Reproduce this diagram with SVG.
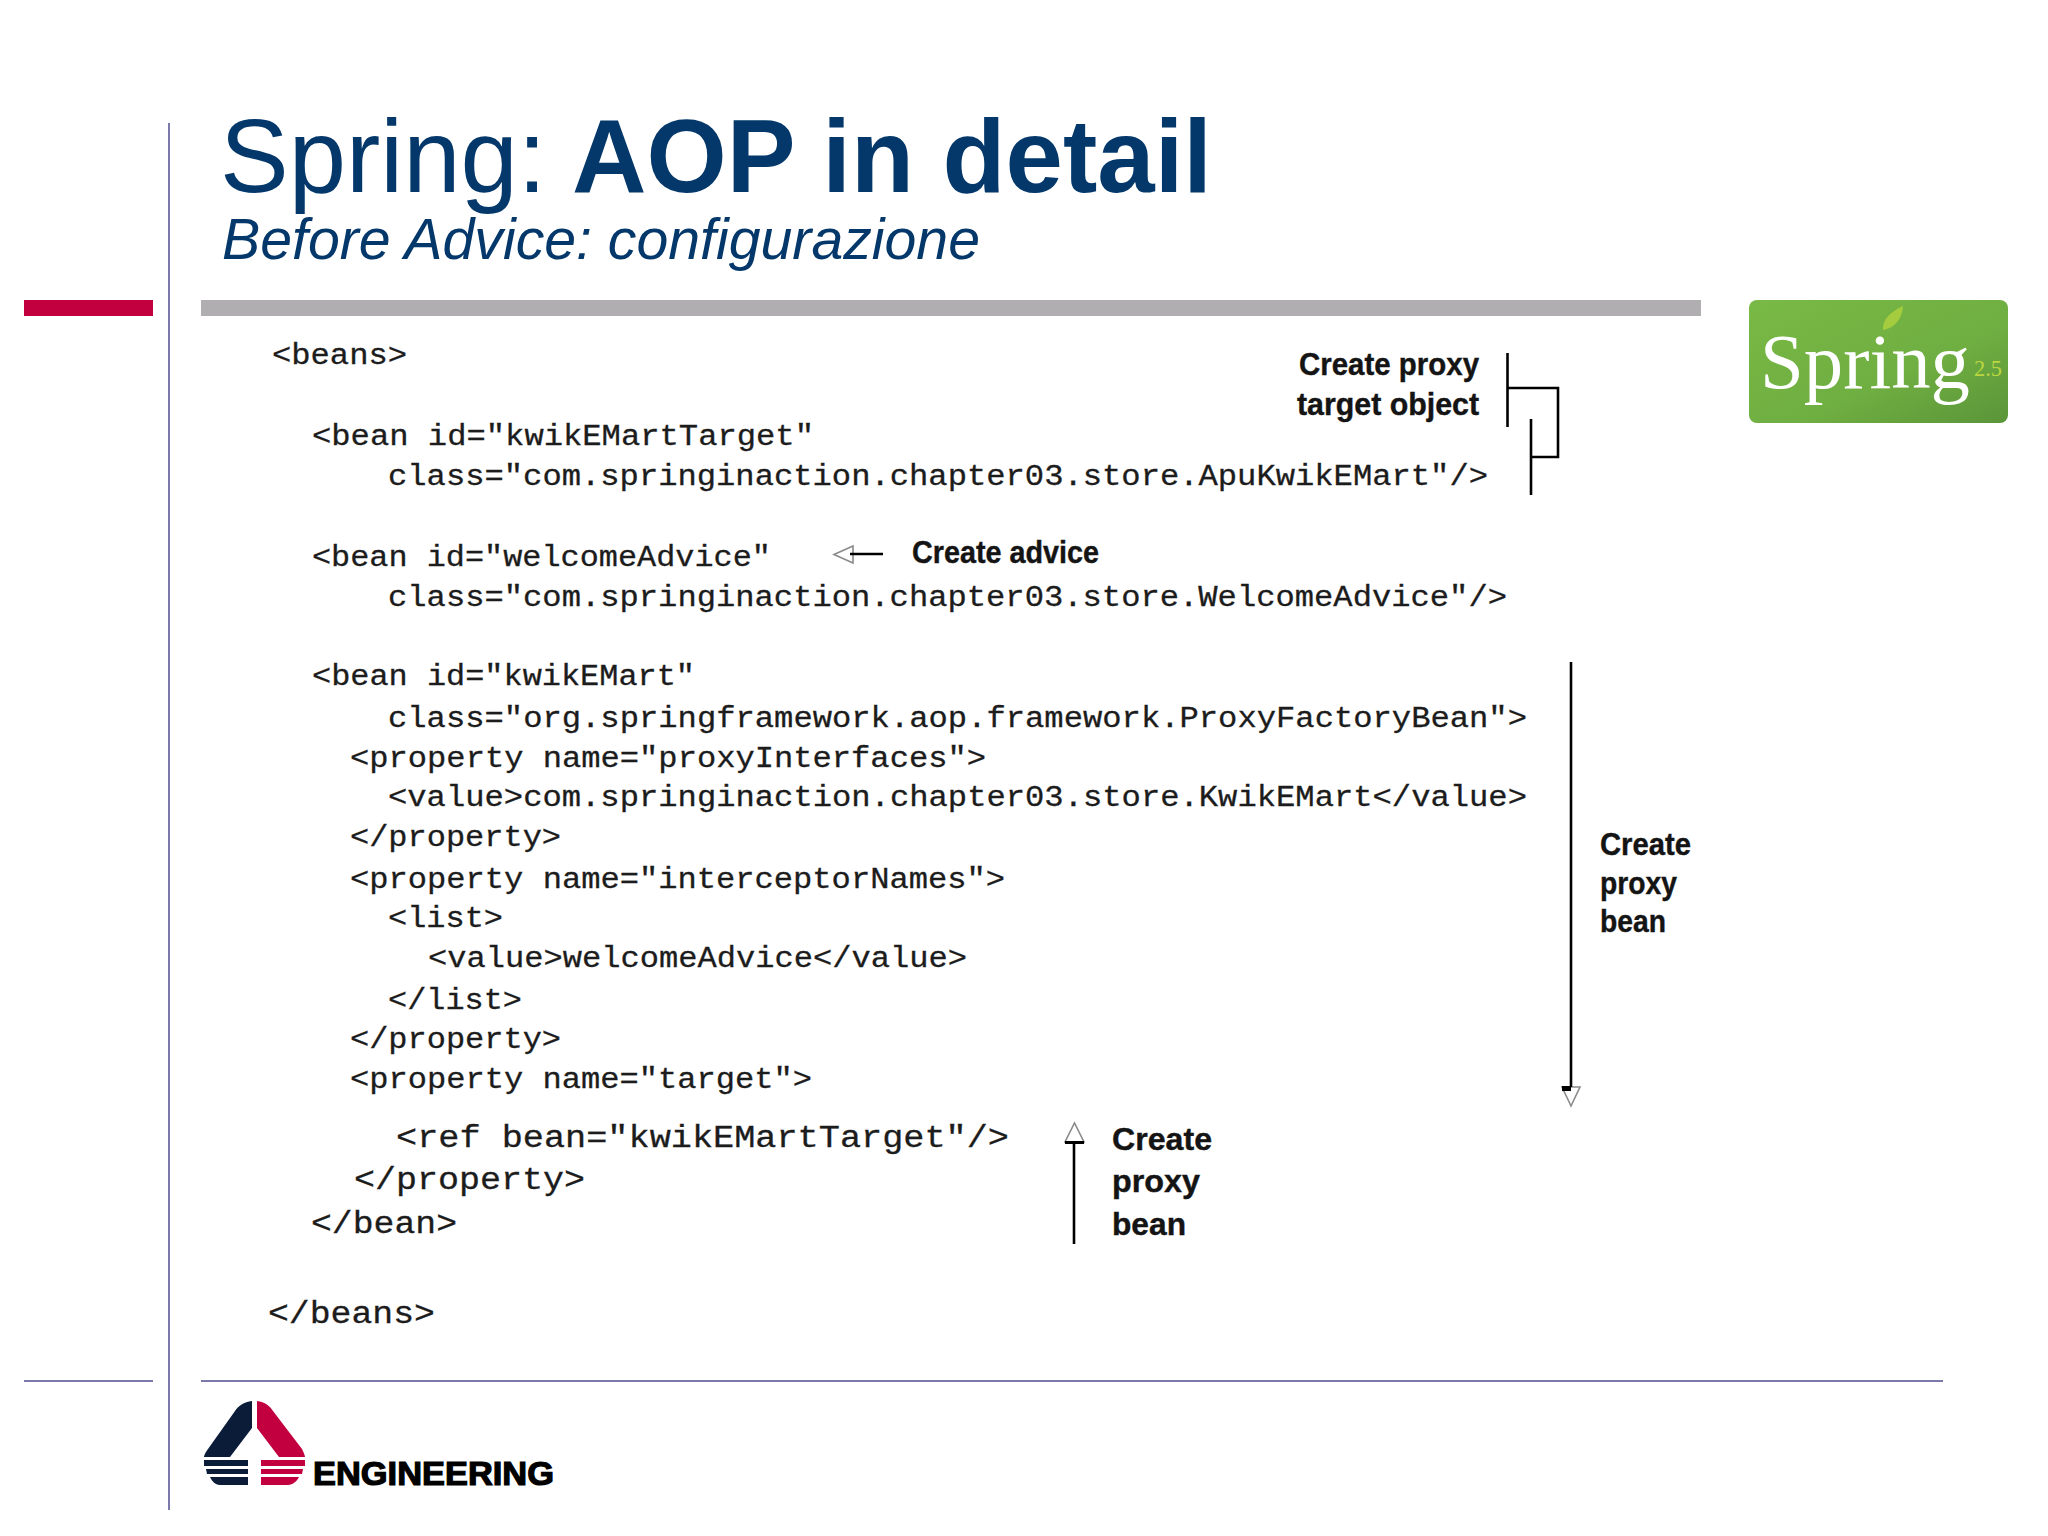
<svg xmlns="http://www.w3.org/2000/svg" width="2048" height="1536" viewBox="0 0 2048 1536">
  <style>
    .title { font-family: "Liberation Sans", Arial, sans-serif; fill: #04386b; }
    .code { font-family: "Liberation Mono", "Courier New", monospace; font-size: 29px; fill: #1c1c1c; stroke: #1c1c1c; stroke-width: 0.3; }
    .code2 { font-family: "Liberation Mono", "Courier New", monospace; font-size: 31px; fill: #1c1c1c; stroke: #1c1c1c; stroke-width: 0.3; }
    .label { font-family: "Liberation Sans Narrow", "Liberation Sans", sans-serif; font-weight: 700; font-size: 32px; fill: #141414; stroke: #141414; stroke-width: 0.4; }
    .conn { fill: none; stroke: #000; stroke-width: 2.6; }
    .head { fill: #fff; stroke: #8a8a8a; stroke-width: 1.6; }
    .rule { fill: #7b78ab; }
  </style>
  <defs>
    <linearGradient id="springBg" x1="0" y1="0" x2="1" y2="1">
      <stop offset="0" stop-color="#79b945"/>
      <stop offset="0.6" stop-color="#6fae41"/>
      <stop offset="1" stop-color="#5a9539"/>
    </linearGradient>
  </defs>
  <rect width="2048" height="1536" fill="#fff"/>

  <g id="frame">
    <rect class="rule" x="168" y="123" width="2" height="1387"/>
    <rect x="24" y="300" width="129" height="16" fill="#c20040"/>
    <rect x="201" y="300" width="1500" height="16" fill="#b0aeb1"/>
    <rect class="rule" x="24" y="1380" width="129" height="2"/>
    <rect class="rule" x="201" y="1380" width="1742" height="2"/>
  </g>

  <g id="title">
    <text class="title" x="220" y="192" font-size="103">Spring:</text>
    <text class="title" x="572" y="192" font-size="103" font-weight="700" textLength="640" lengthAdjust="spacingAndGlyphs">AOP in detail</text>
    <text class="title" x="222" y="259" font-size="57" font-style="italic" textLength="758" lengthAdjust="spacingAndGlyphs">Before Advice: configurazione</text>
  </g>

  <g id="spring-logo">
    <rect x="1749" y="300" width="259" height="123" rx="8" fill="url(#springBg)"/>
    <path d="M1903 306 C1890 312 1882 320 1883 330 C1894 328 1902 320 1903 306 Z" fill="#a5cc3e"/>
    <text x="1760" y="388" font-family="'Liberation Serif', serif" font-size="78" fill="#fff" textLength="210" lengthAdjust="spacingAndGlyphs">Spring</text>
    <text x="1974" y="376" font-family="'Liberation Serif', serif" font-size="23" fill="#bcd640" textLength="28" lengthAdjust="spacingAndGlyphs">2.5</text>
  </g>

  <g id="code">
    <text class="code" x="272" y="364" textLength="135" lengthAdjust="spacingAndGlyphs">&lt;beans&gt;</text>
    <text class="code" x="312" y="445" textLength="502" lengthAdjust="spacingAndGlyphs">&lt;bean id="kwikEMartTarget"</text>
    <text class="code" x="388" y="485" textLength="1100" lengthAdjust="spacingAndGlyphs">class="com.springinaction.chapter03.store.ApuKwikEMart"/&gt;</text>
    <text class="code" x="312" y="566" textLength="459" lengthAdjust="spacingAndGlyphs">&lt;bean id="welcomeAdvice"</text>
    <text class="code" x="388" y="606" textLength="1119" lengthAdjust="spacingAndGlyphs">class="com.springinaction.chapter03.store.WelcomeAdvice"/&gt;</text>
    <text class="code" x="312" y="685" textLength="383" lengthAdjust="spacingAndGlyphs">&lt;bean id="kwikEMart"</text>
    <text class="code" x="388" y="727" textLength="1139" lengthAdjust="spacingAndGlyphs">class="org.springframework.aop.framework.ProxyFactoryBean"&gt;</text>
    <text class="code" x="350" y="767" textLength="636" lengthAdjust="spacingAndGlyphs">&lt;property name="proxyInterfaces"&gt;</text>
    <text class="code" x="388" y="806" textLength="1139" lengthAdjust="spacingAndGlyphs">&lt;value&gt;com.springinaction.chapter03.store.KwikEMart&lt;/value&gt;</text>
    <text class="code" x="350" y="846" textLength="211" lengthAdjust="spacingAndGlyphs">&lt;/property&gt;</text>
    <text class="code" x="350" y="888" textLength="655" lengthAdjust="spacingAndGlyphs">&lt;property name="interceptorNames"&gt;</text>
    <text class="code" x="388" y="927" textLength="115" lengthAdjust="spacingAndGlyphs">&lt;list&gt;</text>
    <text class="code" x="428" y="967" textLength="539" lengthAdjust="spacingAndGlyphs">&lt;value&gt;welcomeAdvice&lt;/value&gt;</text>
    <text class="code" x="388" y="1009" textLength="134" lengthAdjust="spacingAndGlyphs">&lt;/list&gt;</text>
    <text class="code" x="350" y="1048" textLength="211" lengthAdjust="spacingAndGlyphs">&lt;/property&gt;</text>
    <text class="code" x="350" y="1088" textLength="462" lengthAdjust="spacingAndGlyphs">&lt;property name="target"&gt;</text>
    <text class="code2" x="396" y="1147" textLength="613" lengthAdjust="spacingAndGlyphs">&lt;ref bean="kwikEMartTarget"/&gt;</text>
    <text class="code2" x="354" y="1189" textLength="231" lengthAdjust="spacingAndGlyphs">&lt;/property&gt;</text>
    <text class="code2" x="311" y="1233" textLength="146" lengthAdjust="spacingAndGlyphs">&lt;/bean&gt;</text>
    <text class="code2" x="268" y="1323" textLength="167" lengthAdjust="spacingAndGlyphs">&lt;/beans&gt;</text>
  </g>

  <g id="label-target">
    <text class="label" x="1299" y="375" textLength="180" lengthAdjust="spacingAndGlyphs">Create proxy</text>
    <text class="label" x="1297" y="415" textLength="182" lengthAdjust="spacingAndGlyphs">target object</text>
  </g>
  <g id="label-advice">
    <text class="label" x="912" y="563" textLength="187" lengthAdjust="spacingAndGlyphs">Create advice</text>
  </g>
  <g id="label-proxy-right">
    <text class="label" x="1600" y="855" textLength="91" lengthAdjust="spacingAndGlyphs">Create</text>
    <text class="label" x="1600" y="894" textLength="77" lengthAdjust="spacingAndGlyphs">proxy</text>
    <text class="label" x="1600" y="932" textLength="66" lengthAdjust="spacingAndGlyphs">bean</text>
  </g>
  <g id="label-proxy-lower">
    <text class="label" x="1112" y="1150" textLength="100" lengthAdjust="spacingAndGlyphs">Create</text>
    <text class="label" x="1112" y="1192" textLength="88" lengthAdjust="spacingAndGlyphs">proxy</text>
    <text class="label" x="1112" y="1235" textLength="74" lengthAdjust="spacingAndGlyphs">bean</text>
  </g>

  <g id="connectors">
    <path class="conn" d="M1507.5 353 V427"/>
    <path class="conn" d="M1507.5 388 H1558 V457 H1531"/>
    <path class="conn" d="M1531 419 V495"/>
    <path class="head" d="M853 546 L834 554.5 L853 563 Z"/>
    <path class="conn" d="M850 554 H883"/>
    <path class="head" d="M1562 1087 H1580 L1571 1106 Z"/>
    <path class="conn" d="M1571 662 V1087"/>
    <path d="M1562 1086 H1571 V1091 H1562 Z" fill="#000"/>
    <path class="head" d="M1065 1142 H1084 L1074.5 1123 Z"/>
    <path class="conn" d="M1074 1244 V1142"/>
    <path d="M1065 1141 H1084 V1144 H1065 Z" fill="#000"/>
  </g>

  <g id="engineering-logo">
    <path fill="#0a1c38" d="M252 1401 C244 1402 238 1406 235 1411 L208 1449 C205 1453 204 1456 204 1457 H230 L252 1428 Z"/>
    <path fill="#c20040" d="M257 1401 C265 1402 270 1406 273 1411 L302 1449 C304 1453 305 1456 305 1457 H279 L257 1428 Z"/>
    <path fill="#0a1c38" d="M204 1460 H248 V1466 H204 Z M206 1469 H248 V1474 H207 Z M210 1477 H248 V1485 H220 C215 1485 212 1481 210 1477 Z"/>
    <path fill="#c20040" d="M261 1460 H305 V1466 H261 Z M261 1469 H303 L302 1474 H261 Z M261 1477 H299 C297 1481 293 1485 288 1485 H261 Z"/>
    <text x="313" y="1485" font-family="'Liberation Sans', sans-serif" font-weight="700" font-size="33" fill="#000" stroke="#000" stroke-width="1.2" textLength="241" lengthAdjust="spacingAndGlyphs">ENGINEERING</text>
  </g>
</svg>
